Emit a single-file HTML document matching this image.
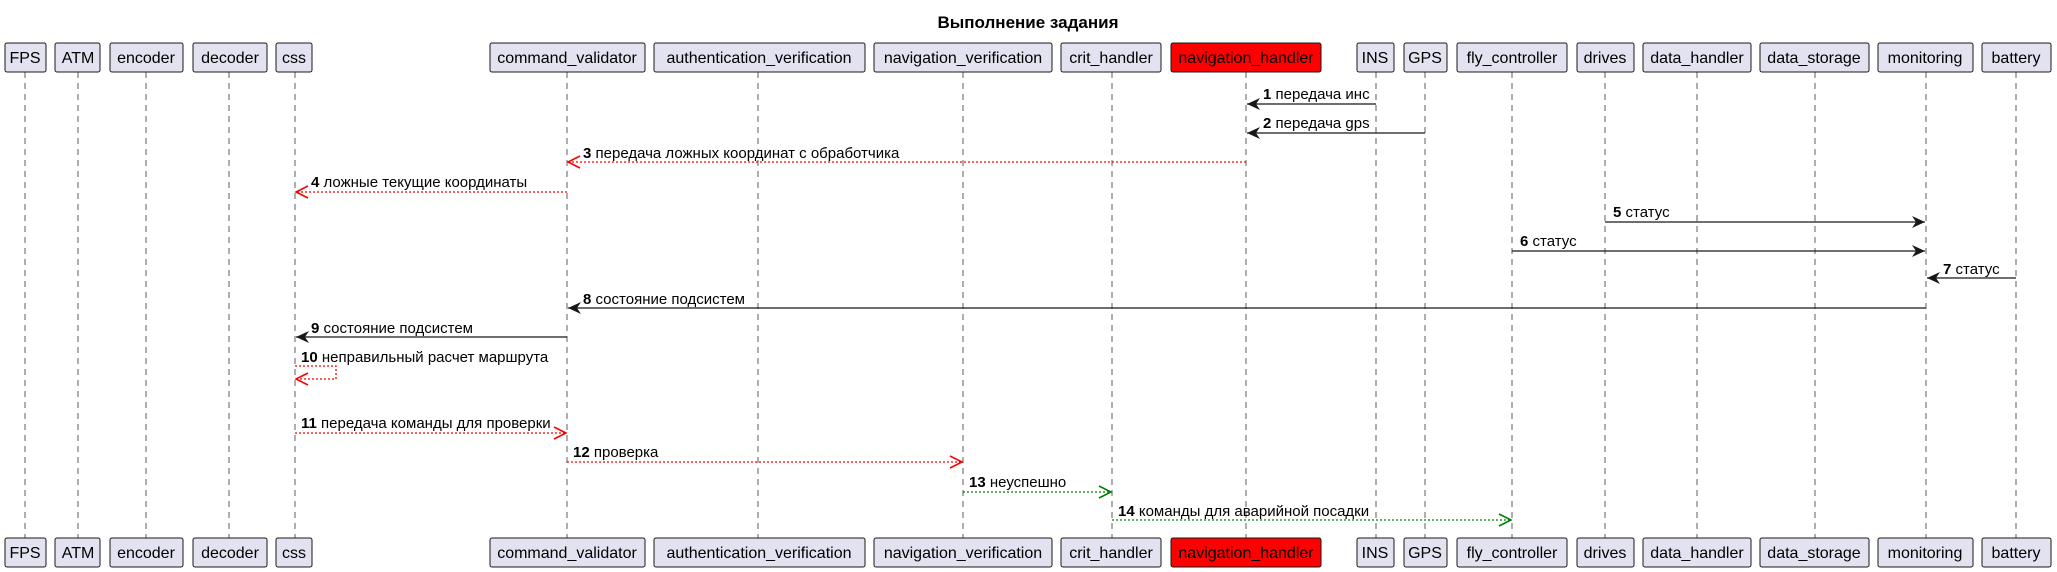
<!DOCTYPE html>
<html><head><meta charset="utf-8"><style>
html,body{margin:0;padding:0;background:#fff;}
svg{display:block;}
text{font-family:"Liberation Sans","DejaVu Sans",sans-serif;}
</style></head><body>
<svg width="2057" height="572" viewBox="0 0 2057 572" xmlns="http://www.w3.org/2000/svg">
<defs>
<marker id="ab" markerWidth="14" markerHeight="12" refX="13" refY="6" orient="auto" markerUnits="userSpaceOnUse"><path d="M0,0 L13,6 L0,12 L4,6 Z" fill="#181818"/></marker>
<marker id="ar" markerWidth="14" markerHeight="14" refX="13" refY="7" orient="auto" markerUnits="userSpaceOnUse"><path d="M1,1 L13,7 L1,13" fill="none" stroke="#ff0000" stroke-width="1.6"/></marker>
<marker id="ag" markerWidth="14" markerHeight="14" refX="13" refY="7" orient="auto" markerUnits="userSpaceOnUse"><path d="M1,1 L13,7 L1,13" fill="none" stroke="#008000" stroke-width="1.6"/></marker>
</defs>
<text x="1028" y="28" font-size="17" font-weight="bold" text-anchor="middle">Выполнение задания</text>
<g stroke="#181818" stroke-width="1" stroke-dasharray="6,5" opacity="0.7">
<line x1="25" y1="72" x2="25" y2="538"/><line x1="78" y1="72" x2="78" y2="538"/>
<line x1="146" y1="72" x2="146" y2="538"/><line x1="229" y1="72" x2="229" y2="538"/>
<line x1="295" y1="72" x2="295" y2="538"/><line x1="567" y1="72" x2="567" y2="538"/>
<line x1="758" y1="72" x2="758" y2="538"/><line x1="963" y1="72" x2="963" y2="538"/>
<line x1="1112" y1="72" x2="1112" y2="538"/><line x1="1246" y1="72" x2="1246" y2="538"/>
<line x1="1376" y1="72" x2="1376" y2="538"/><line x1="1425" y1="72" x2="1425" y2="538"/>
<line x1="1512" y1="72" x2="1512" y2="538"/><line x1="1605" y1="72" x2="1605" y2="538"/>
<line x1="1697" y1="72" x2="1697" y2="538"/><line x1="1815" y1="72" x2="1815" y2="538"/>
<line x1="1926" y1="72" x2="1926" y2="538"/><line x1="2016" y1="72" x2="2016" y2="538"/>
</g>
<g id="boxes" font-size="16">
<g stroke="#181818" stroke-width="1" fill="#E2E2F0">
<rect x="5" y="43" width="41" height="29" rx="2"/><rect x="55" y="43" width="45" height="29" rx="2"/>
<rect x="110" y="43" width="73" height="29" rx="2"/><rect x="193" y="43" width="74" height="29" rx="2"/>
<rect x="276" y="43" width="36" height="29" rx="2"/><rect x="490" y="43" width="155" height="29" rx="2"/>
<rect x="654" y="43" width="211" height="29" rx="2"/><rect x="874" y="43" width="178" height="29" rx="2"/>
<rect x="1061" y="43" width="100" height="29" rx="2"/><rect x="1171" y="43" width="150" height="29" rx="2" fill="#ff0000"/>
<rect x="1357" y="43" width="37" height="29" rx="2"/><rect x="1404" y="43" width="43" height="29" rx="2"/>
<rect x="1457" y="43" width="110" height="29" rx="2"/><rect x="1577" y="43" width="57" height="29" rx="2"/>
<rect x="1643" y="43" width="108" height="29" rx="2"/><rect x="1760" y="43" width="109" height="29" rx="2"/>
<rect x="1878" y="43" width="95" height="29" rx="2"/><rect x="1982" y="43" width="69" height="29" rx="2"/>
</g>
<g text-anchor="middle" fill="#000">
<text x="25" y="63">FPS</text><text x="78" y="63">ATM</text><text x="146" y="63">encoder</text>
<text x="230" y="63">decoder</text><text x="294" y="63">css</text><text x="567" y="63">command_validator</text>
<text x="759" y="63">authentication_verification</text><text x="963" y="63">navigation_verification</text>
<text x="1111" y="63">crit_handler</text><text x="1246" y="63">navigation_handler</text>
<text x="1375" y="63">INS</text><text x="1425" y="63">GPS</text><text x="1512" y="63">fly_controller</text>
<text x="1605" y="63">drives</text><text x="1697" y="63">data_handler</text><text x="1814" y="63">data_storage</text>
<text x="1925" y="63">monitoring</text><text x="2016" y="63">battery</text>
</g>
</g>
<use href="#boxes" transform="translate(0,495)"/>
<g stroke-width="1.3" fill="none">
<line x1="1376" y1="104" x2="1247" y2="104" stroke="#181818" marker-end="url(#ab)"/>
<line x1="1425" y1="133" x2="1247" y2="133" stroke="#181818" marker-end="url(#ab)"/>
<line x1="1246" y1="162" x2="568" y2="162" stroke="#ff0000" stroke-dasharray="2,2" marker-end="url(#ar)"/>
<line x1="567" y1="192" x2="296" y2="192" stroke="#ff0000" stroke-dasharray="2,2" marker-end="url(#ar)"/>
<line x1="1605" y1="222" x2="1925" y2="222" stroke="#181818" marker-end="url(#ab)"/>
<line x1="1512" y1="251" x2="1925" y2="251" stroke="#181818" marker-end="url(#ab)"/>
<line x1="2016" y1="278" x2="1927" y2="278" stroke="#181818" marker-end="url(#ab)"/>
<line x1="1926" y1="308" x2="568" y2="308" stroke="#181818" marker-end="url(#ab)"/>
<line x1="567" y1="337" x2="296" y2="337" stroke="#181818" marker-end="url(#ab)"/>
<polyline points="295,366 336,366 336,379 296,379" stroke="#ff0000" stroke-dasharray="2,2" marker-end="url(#ar)"/>
<line x1="295" y1="433" x2="566" y2="433" stroke="#ff0000" stroke-dasharray="2,2" marker-end="url(#ar)"/>
<line x1="567" y1="462" x2="962" y2="462" stroke="#ff0000" stroke-dasharray="2,2" marker-end="url(#ar)"/>
<line x1="963" y1="492" x2="1111" y2="492" stroke="#008000" stroke-dasharray="2,2" marker-end="url(#ag)"/>
<line x1="1112" y1="520" x2="1511" y2="520" stroke="#008000" stroke-dasharray="2,2" marker-end="url(#ag)"/>
</g>
<g font-size="15" fill="#000">
<text x="1263" y="99"><tspan font-weight="bold">1</tspan> передача инс</text>
<text x="1263" y="128"><tspan font-weight="bold">2</tspan> передача gps</text>
<text x="583" y="158"><tspan font-weight="bold">3</tspan> передача ложных координат с обработчика</text>
<text x="311" y="187"><tspan font-weight="bold">4</tspan> ложные текущие координаты</text>
<text x="1613" y="217"><tspan font-weight="bold">5</tspan> статус</text>
<text x="1520" y="246"><tspan font-weight="bold">6</tspan> статус</text>
<text x="1943" y="274"><tspan font-weight="bold">7</tspan> статус</text>
<text x="583" y="304"><tspan font-weight="bold">8</tspan> состояние подсистем</text>
<text x="311" y="333"><tspan font-weight="bold">9</tspan> состояние подсистем</text>
<text x="301" y="362"><tspan font-weight="bold">10</tspan> неправильный расчет маршрута</text>
<text x="301" y="428"><tspan font-weight="bold">11</tspan> передача команды для проверки</text>
<text x="573" y="457"><tspan font-weight="bold">12</tspan> проверка</text>
<text x="969" y="487"><tspan font-weight="bold">13</tspan> неуспешно</text>
<text x="1118" y="516"><tspan font-weight="bold">14</tspan> команды для аварийной посадки</text>
</g>
</svg>
</body></html>
